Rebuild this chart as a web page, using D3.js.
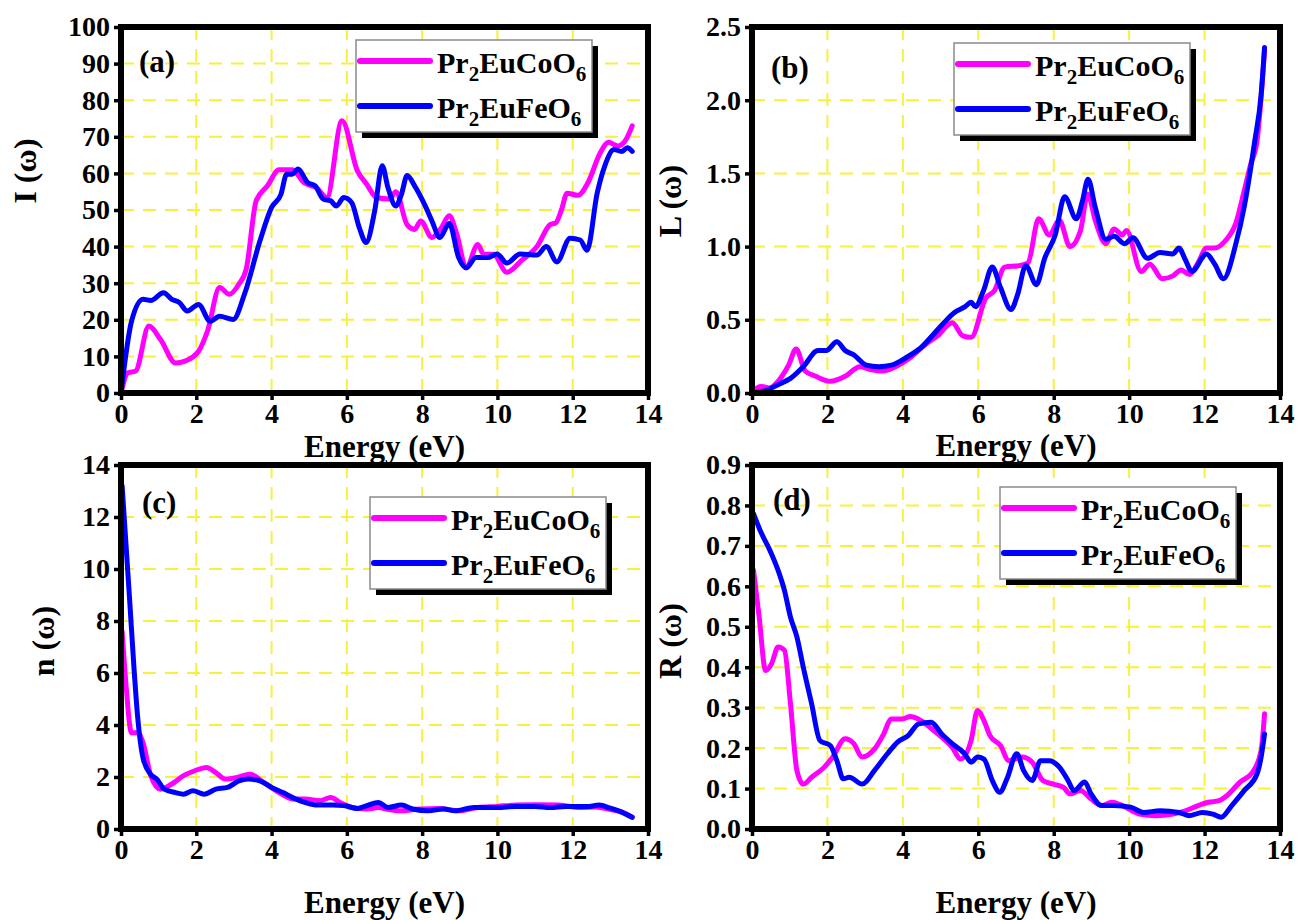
<!DOCTYPE html>
<html>
<head>
<meta charset="utf-8">
<title>Optical spectra of Pr2EuCoO6 and Pr2EuFeO6</title>
<script src="https://cdn.jsdelivr.net/npm/d3@7"></script>
<style>
  body { margin: 0; background: #fff; }
  svg text { font-family: "Liberation Serif", "Times New Roman", serif !important; font-weight: bold; }
</style>
</head>
<body>
<svg id="chart" width="1298" height="920"></svg>
<script>
// energy axis ticks shared by all four panels
var energyTicks = [0, 2, 4, 6, 8, 10, 12, 14];
var seriesNames = ["Co", "Fe"]; // Pr2EuCoO6, Pr2EuFeO6

// (a) absorption I(w), [energy eV, value]
var absCo = [[0,0],[0.18,5.5],[0.39,6],[0.74,18.3],[1.05,14.6],[1.45,8.2],[1.7,8.7],[2.06,11.4],[2.3,17],[2.62,28.8],[2.88,27],[3.13,29.7],[3.33,34],[3.59,52.5],[3.89,56.6],[4.2,61],[4.55,61],[4.86,57.5],[5.2,56],[5.47,53.4],[5.87,74.4],[6.28,60.7],[6.53,57],[6.79,53.4],[7.14,53],[7.3,55],[7.6,46],[7.8,44.7],[7.96,47],[8.26,42.5],[8.5,45],[8.72,48.4],[8.92,43.4],[9.17,34.2],[9.48,40.6],[9.63,37.9],[9.89,37.9],[10.25,33],[10.65,36.3],[11.05,40],[11.4,46],[11.55,46.5],[11.7,50],[11.85,54.6],[12.14,54],[12.4,57.4],[12.73,65.6],[12.95,68.5],[13.2,67.5],[13.4,69],[13.58,73]];
var absFe = [[0,0],[0.28,19.6],[0.59,25.6],[0.79,25.3],[1.13,27.4],[1.35,25.6],[1.55,24.7],[1.76,22.4],[2.06,24.2],[2.37,19.6],[2.62,21],[2.98,20.1],[3.28,27],[3.69,41.5],[4.0,50.7],[4.25,54.3],[4.4,59.8],[4.55,59.8],[4.7,61.2],[4.96,57.5],[5.16,56.6],[5.37,53],[5.57,52.5],[5.72,51.1],[5.92,53.4],[6.13,52],[6.33,45.2],[6.51,41.1],[6.74,49.8],[6.94,62.1],[7.09,56.2],[7.3,51.1],[7.45,54.3],[7.6,59.4],[7.8,56.6],[8.06,51.6],[8.26,47],[8.47,42.5],[8.72,46.3],[8.97,37],[9.17,34.2],[9.43,37],[9.74,37],[9.99,38],[10.25,35.5],[10.6,38],[11.05,37.7],[11.3,40],[11.58,35.8],[11.93,42.3],[12.2,41.8],[12.38,39],[12.65,54.6],[12.85,62],[13.1,66.5],[13.3,66],[13.45,67],[13.58,66]];

// (b) energy loss L(w)
var lossCo = [[0,0.01],[0.24,0.045],[0.47,0.034],[0.69,0.08],[0.97,0.19],[1.17,0.3],[1.41,0.15],[1.69,0.114],[2.08,0.08],[2.47,0.114],[2.86,0.18],[3.14,0.16],[3.47,0.15],[3.81,0.18],[4.14,0.23],[4.59,0.33],[4.92,0.39],[5.31,0.48],[5.59,0.39],[5.81,0.38],[6.2,0.65],[6.43,0.7],[6.7,0.86],[7.09,0.87],[7.32,0.89],[7.6,1.19],[7.88,1.08],[8.15,1.18],[8.43,1.0],[8.71,1.11],[8.9,1.36],[9.1,1.18],[9.38,1.02],[9.6,1.12],[9.82,1.08],[9.93,1.11],[10.32,0.83],[10.55,0.88],[10.88,0.78],[11.16,0.8],[11.38,0.84],[11.6,0.81],[11.83,0.89],[12.05,0.99],[12.27,0.99],[12.55,1.04],[12.83,1.16],[13.05,1.38],[13.22,1.56],[13.39,1.72],[13.59,2.34]];
var lossFe = [[0,0],[0.36,0.016],[0.69,0.057],[1.02,0.1],[1.36,0.18],[1.75,0.29],[1.97,0.29],[2.25,0.35],[2.47,0.29],[2.7,0.26],[3.03,0.19],[3.36,0.18],[3.7,0.19],[4.14,0.25],[4.48,0.31],[4.81,0.4],[5.09,0.48],[5.37,0.55],[5.65,0.59],[5.81,0.62],[5.92,0.59],[6.14,0.7],[6.37,0.86],[6.59,0.72],[6.87,0.57],[7.04,0.67],[7.26,0.87],[7.54,0.74],[7.76,0.92],[8.04,1.08],[8.29,1.34],[8.6,1.19],[8.76,1.31],[8.91,1.46],[9.1,1.27],[9.38,1.05],[9.6,1.07],[9.88,1.02],[10.1,1.06],[10.49,0.92],[10.82,0.96],[11.16,0.95],[11.32,0.99],[11.49,0.91],[11.66,0.83],[12.05,0.95],[12.27,0.88],[12.5,0.78],[12.83,1.02],[13.05,1.27],[13.33,1.72],[13.5,2.04],[13.59,2.36]];

// (c) refractive index n(w)
var refCo = [[0.03,7.6],[0.13,5.6],[0.28,3.7],[0.44,3.7],[0.59,3.3],[0.79,2.05],[1.05,1.53],[1.35,1.73],[1.66,2.05],[1.96,2.24],[2.27,2.37],[2.52,2.17],[2.77,1.92],[3.08,1.98],[3.43,2.11],[3.79,1.79],[4.2,1.4],[4.6,1.15],[4.9,1.15],[5.3,1.09],[5.57,1.21],[5.82,1.02],[6.13,0.83],[6.53,0.77],[6.84,0.83],[7.04,0.77],[7.45,0.7],[7.96,0.77],[8.47,0.79],[8.97,0.7],[9.48,0.83],[9.99,0.87],[10.5,0.92],[11.0,0.93],[11.6,0.92],[12.2,0.83],[12.6,0.85],[13.0,0.75],[13.3,0.65],[13.58,0.45]];
var refFe = [[0.03,13.2],[0.13,11],[0.23,8.8],[0.34,6.3],[0.44,4.35],[0.59,2.7],[0.79,2.1],[0.95,1.92],[1.15,1.53],[1.45,1.4],[1.66,1.34],[1.91,1.47],[2.21,1.34],[2.52,1.53],[2.83,1.6],[3.13,1.85],[3.38,1.92],[3.69,1.85],[4.0,1.6],[4.3,1.4],[4.65,1.15],[4.9,1.02],[5.21,0.92],[5.62,0.92],[5.92,0.9],[6.28,0.79],[6.53,0.9],[6.84,1.02],[7.09,0.83],[7.45,0.92],[7.75,0.77],[8.16,0.7],[8.57,0.77],[8.87,0.7],[9.38,0.83],[9.99,0.83],[10.5,0.87],[11.0,0.87],[11.4,0.83],[11.82,0.87],[12.43,0.87],[12.7,0.92],[13.0,0.8],[13.3,0.65],[13.58,0.45]];

// (d) reflectivity R(w)
var reflCo = [[0.04,0.64],[0.19,0.524],[0.36,0.392],[0.52,0.409],[0.69,0.45],[0.86,0.442],[1.02,0.31],[1.19,0.145],[1.36,0.111],[1.58,0.128],[1.92,0.153],[2.14,0.178],[2.47,0.223],[2.7,0.211],[2.92,0.178],[3.25,0.198],[3.47,0.231],[3.7,0.272],[3.98,0.272],[4.2,0.278],[4.48,0.268],[4.81,0.244],[5.03,0.227],[5.31,0.202],[5.53,0.173],[5.81,0.219],[5.98,0.293],[6.15,0.268],[6.31,0.231],[6.59,0.206],[6.81,0.169],[7.15,0.178],[7.43,0.165],[7.71,0.12],[7.99,0.111],[8.26,0.103],[8.43,0.087],[8.71,0.095],[8.99,0.074],[9.27,0.058],[9.54,0.066],[9.82,0.058],[10.27,0.037],[10.71,0.033],[11.16,0.037],[11.49,0.045],[11.83,0.058],[12.1,0.066],[12.38,0.07],[12.6,0.083],[12.94,0.116],[13.27,0.14],[13.5,0.194],[13.59,0.285]];
var reflFe = [[0.04,0.78],[0.25,0.731],[0.47,0.69],[0.69,0.64],[0.86,0.59],[1.02,0.524],[1.19,0.475],[1.36,0.4],[1.58,0.31],[1.8,0.219],[2.08,0.206],[2.25,0.169],[2.42,0.124],[2.58,0.128],[2.92,0.111],[3.25,0.145],[3.59,0.186],[3.86,0.215],[4.14,0.231],[4.42,0.26],[4.75,0.264],[5.03,0.235],[5.31,0.211],[5.64,0.186],[5.81,0.165],[5.98,0.178],[6.15,0.173],[6.37,0.12],[6.57,0.091],[6.76,0.124],[7.02,0.186],[7.2,0.145],[7.43,0.12],[7.65,0.169],[7.88,0.169],[8.15,0.153],[8.38,0.12],[8.54,0.095],[8.82,0.116],[8.99,0.087],[9.27,0.058],[9.6,0.058],[10.04,0.054],[10.38,0.041],[10.82,0.045],[11.32,0.041],[11.6,0.033],[11.94,0.041],[12.22,0.037],[12.44,0.029],[12.72,0.058],[13.05,0.095],[13.39,0.136],[13.5,0.178],[13.59,0.235]];

var yTicksA = d3.range(0, 11).map(function(i) { return i * 10; });
var yTicksB = d3.range(0, 6).map(function(i) { return i * 0.5; });
var yTicksC = d3.range(0, 8).map(function(i) { return i * 2; });
var yTicksD = d3.range(0, 10).map(function(i) { return i / 10; });

var colors = { Co: "#ff00ff", Fe: "#0000ff" };
var serif = "'Liberation Serif', 'Times New Roman', serif";

var panels = [
  { tag: "(a)", title: "I (\u03c9)", co: absCo, fe: absFe, yTicks: yTicksA, fmt: d3.format("d"),
    left: 121, right: 648, top: 27, bottom: 393, titleX: 36, titleY: 171, xTitleY: 457,
    legend: [356, 40], tagPos: [139, 72] },
  { tag: "(b)", title: "L (\u03c9)", co: lossCo, fe: lossFe, yTicks: yTicksB, fmt: d3.format(".1f"),
    left: 752, right: 1280, top: 27, bottom: 393, titleX: 681, titleY: 201, xTitleY: 456,
    legend: [954, 43], tagPos: [771, 78] },
  { tag: "(c)", title: "n (\u03c9)", co: refCo, fe: refFe, yTicks: yTicksC, fmt: d3.format("d"),
    left: 121, right: 648, top: 465, bottom: 829, titleX: 54, titleY: 641, xTitleY: 913,
    legend: [370, 497], tagPos: [142, 513] },
  { tag: "(d)", title: "R (\u03c9)", co: reflCo, fe: reflFe, yTicks: yTicksD, fmt: d3.format(".1f"),
    left: 752, right: 1280, top: 465, bottom: 829, titleX: 681, titleY: 641, xTitleY: 913,
    legend: [1000, 487], tagPos: [773, 510] }
];

var svg = d3.select("#chart");

panels.forEach(function(p) {
  var x = d3.scaleLinear().domain([0, 14]).range([p.left, p.right]);
  var yMax = p.yTicks[p.yTicks.length - 1];
  var y = d3.scaleLinear().domain([0, yMax]).range([p.bottom, p.top]);
  var g = svg.append("g");

  // yellow dashed grid
  g.selectAll(".vgrid").data(energyTicks.slice(1, -1)).enter().append("line")
    .attr("x1", function(d) { return x(d); }).attr("x2", function(d) { return x(d); })
    .attr("y1", p.top).attr("y2", p.bottom)
    .attr("stroke", "#f7f03c").attr("stroke-width", 2).attr("stroke-dasharray", "13,9");
  g.selectAll(".hgrid").data(p.yTicks.slice(1, -1)).enter().append("line")
    .attr("x1", p.left).attr("x2", p.right)
    .attr("y1", function(d) { return y(d); }).attr("y2", function(d) { return y(d); })
    .attr("stroke", "#f7f03c").attr("stroke-width", 2).attr("stroke-dasharray", "13,9");

  // axes
  var xAxis = g.append("g").attr("transform", "translate(0," + p.bottom + ")")
    .call(d3.axisBottom(x).tickValues(energyTicks).tickFormat(d3.format("d")).tickSize(7).tickPadding(3));
  var yAxis = g.append("g").attr("transform", "translate(" + p.left + ",0)")
    .call(d3.axisLeft(y).tickValues(p.yTicks).tickFormat(p.fmt).tickSize(7).tickPadding(4));
  [xAxis, yAxis].forEach(function(a) {
    a.attr("font-family", null).attr("font-size", null);
    a.select(".domain").remove();
    a.selectAll(".tick line").attr("stroke", "#000").attr("stroke-width", 3.5);
    a.selectAll(".tick text").style("font-family", serif).style("font-weight", "bold")
      .style("font-size", "28px").attr("fill", "#000");
  });

  // curves
  var line = d3.line()
    .x(function(d) { return x(d[0]); })
    .y(function(d) { return y(d[1]); })
    .curve(d3.curveMonotoneX);
  [["Co", p.co], ["Fe", p.fe]].forEach(function(s) {
    g.append("path").datum(s[1])
      .attr("d", line)
      .attr("fill", "none")
      .attr("stroke", colors[s[0]])
      .attr("stroke-width", 5)
      .attr("stroke-linejoin", "round")
      .attr("stroke-linecap", "round");
  });

  // thick frame
  g.append("rect")
    .attr("x", p.left).attr("y", p.top)
    .attr("width", p.right - p.left).attr("height", p.bottom - p.top)
    .attr("fill", "none").attr("stroke", "#000").attr("stroke-width", 6);

  // titles
  g.append("text").attr("x", (p.left + p.right) / 2).attr("y", p.xTitleY)
    .attr("text-anchor", "middle").style("font-size", "31px").text("Energy (eV)");
  g.append("text")
    .attr("transform", "translate(" + p.titleX + "," + p.titleY + ") rotate(-90)")
    .attr("text-anchor", "middle").style("font-size", "32px").text(p.title);
  g.append("text").attr("x", p.tagPos[0]).attr("y", p.tagPos[1])
    .style("font-size", "31px").text(p.tag);

  // legend with drop shadow
  var lg = g.append("g").attr("transform", "translate(" + p.legend[0] + "," + p.legend[1] + ")");
  lg.append("rect").attr("x", 6).attr("y", 6).attr("width", 236).attr("height", 92).attr("fill", "#000");
  lg.append("rect").attr("width", 236).attr("height", 92)
    .attr("fill", "#fff").attr("stroke", "#8a8a8a").attr("stroke-width", 1.5);
  seriesNames.forEach(function(name, i) {
    var ly = 21 + i * 45;
    lg.append("line").attr("x1", 4).attr("x2", 74).attr("y1", ly).attr("y2", ly)
      .attr("stroke", colors[name]).attr("stroke-width", 6).attr("stroke-linecap", "round");
    var t = lg.append("text").attr("x", 81).attr("y", ly + 12).style("font-size", "30px");
    t.append("tspan").text("Pr");
    t.append("tspan").attr("dy", 8).style("font-size", "21px").text("2");
    t.append("tspan").attr("dy", -8).text("Eu" + name + "O");
    t.append("tspan").attr("dy", 8).style("font-size", "21px").text("6");
  });
});
</script>
</body>
</html>
